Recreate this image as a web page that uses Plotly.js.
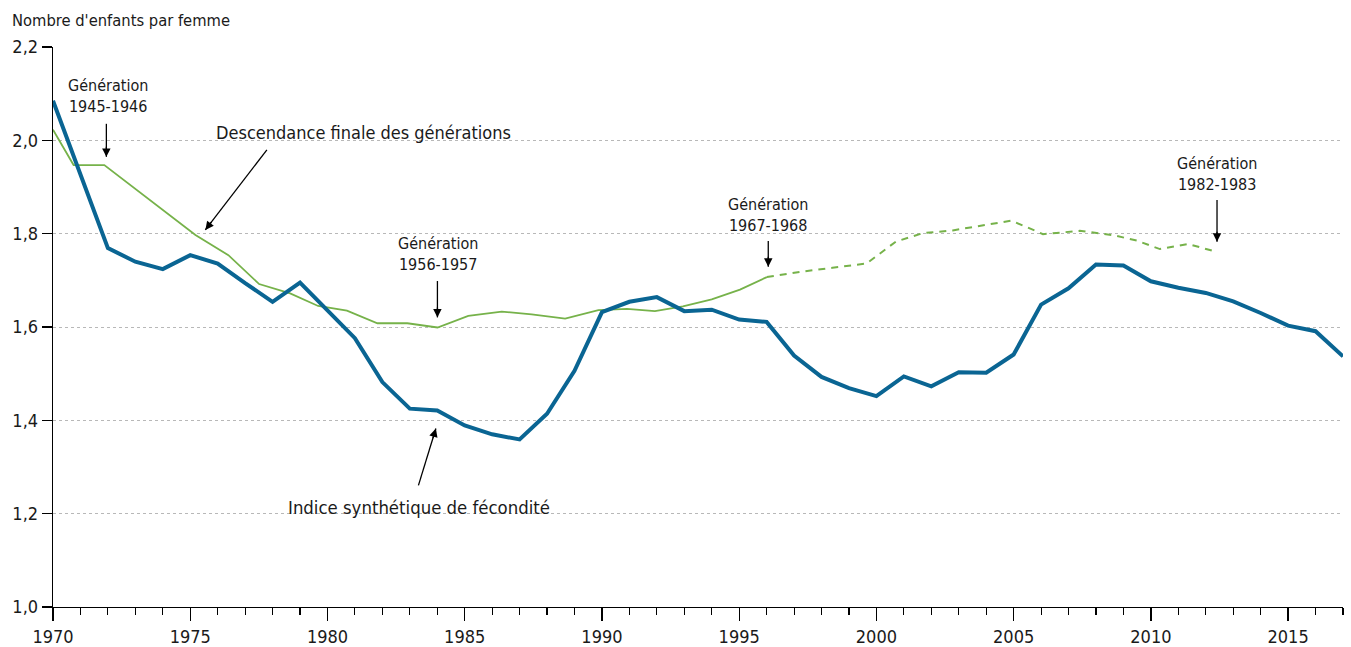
<!DOCTYPE html>
<html>
<head>
<meta charset="utf-8">
<script src="https://cdn.plot.ly/plotly-3.0.1.min.js"></script>
<style>html,body{margin:0;padding:0;background:#fff;}#chart{width:1351px;height:647px;}</style>
</head>
<body>
<div id="chart"></div>
<script>
// Indice synthétique de fécondité (par année)
const years = [1970,1971,1972,1973,1974,1975,1976,1977,1978,1979,
               1980,1981,1982,1983,1984,1985,1986,1987,1988,1989,
               1990,1991,1992,1993,1994,1995,1996,1997,1998,1999,
               2000,2001,2002,2003,2004,2005,2006,2007,2008,2009,
               2010,2011,2012,2013,2014,2015,2016,2017];
const isf = [2.085,1.927,1.769,1.740,1.724,1.754,1.736,1.694,1.654,1.695,
             1.634,1.576,1.482,1.425,1.421,1.389,1.370,1.359,1.414,1.506,
             1.632,1.654,1.664,1.634,1.637,1.616,1.611,1.539,1.493,1.469,
             1.452,1.494,1.473,1.503,1.502,1.541,1.648,1.683,1.734,1.732,
             1.698,1.684,1.673,1.655,1.630,1.603,1.591,1.537];

// Descendance finale des générations (génération, année de positionnement, valeur)
const generations = [1943,1944,1945,1946,1947,1948,1949,1950,1951,1952,
                     1953,1954,1955,1956,1957,1958,1959,1960,1961,1962,
                     1963,1964,1965,1966,1967,1968,1969,1970,1971,1972,
                     1973,1974,1975,1976,1977,1978,1979,1980,1981,1982];
const genYear = [1970.00,1970.75,1971.87,1972.96,1974.09,1975.19,1976.39,1977.51,1978.64,1979.66,
                 1980.71,1981.82,1982.91,1984.01,1985.13,1986.35,1987.44,1988.66,1989.87,1990.91,
                 1991.93,1992.95,1994.00,1995.03,1996.01,1997.20,1998.40,1999.64,2000.71,2001.69,
                 2002.78,2003.84,2004.92,2006.07,2007.41,2008.61,2009.50,2010.33,2011.35,2012.39];
const descFinale = [2.023,1.947,1.947,1.898,1.847,1.797,1.754,1.692,1.672,1.645,
                    1.635,1.608,1.608,1.599,1.624,1.633,1.627,1.618,1.636,1.639,
                    1.634,1.644,1.659,1.680,1.707,1.718,1.727,1.736,1.783,1.801,
                    1.807,1.817,1.828,1.799,1.806,1.797,1.785,1.767,1.778,1.761];
const lastCompleteGeneration = 1967; // au-delà : estimation (pointillé)

const xTicks = [1970,1975,1980,1985,1990,1995,2000,2005,2010,2015];
const yTicks = [1.0,1.2,1.4,1.6,1.8,2.0,2.2];

const FONT = "'DejaVu Sans Condensed','Liberation Sans Narrow',sans-serif";
const TXT = '#1a1a1a';

const solidX = [], solidY = [], dashX = [], dashY = [];
generations.forEach((g, i) => {
  if (g <= lastCompleteGeneration) { solidX.push(genYear[i]); solidY.push(descFinale[i]); }
  if (g >= lastCompleteGeneration) { dashX.push(genYear[i]); dashY.push(descFinale[i]); }
});

const traces = [
  {x: solidX, y: solidY, type: 'scatter', mode: 'lines', name: 'Descendance finale',
   line: {color: '#76b24a', width: 1.8}, hoverinfo: 'skip'},
  {x: dashX, y: dashY, type: 'scatter', mode: 'lines', name: 'Descendance finale (estimée)',
   line: {color: '#76b24a', width: 2, dash: '7px,6px'}, hoverinfo: 'skip'},
  {x: years, y: isf, type: 'scatter', mode: 'lines', name: 'ISF',
   line: {color: '#0a6593', width: 4}, hoverinfo: 'skip'}
];

function label(text, x, y, size) {
  return {text: text, x: x, y: y, xref: 'x', yref: 'y', showarrow: false,
          xanchor: 'center', yanchor: 'middle', align: 'center',
          font: {family: FONT, size: size, color: TXT}};
}
// pointer: tail (x0,y0) -> tip (x1,y1); shaft as a shape, head as an annotation arrow
const pointers = [
  [1971.944, 2.0354, 1971.944, 1.9646, 0, -10],
  [1977.793, 1.9796, 1975.55, 1.808, 6.1, -7.9],
  [1984.006, 1.6985, 1984.006, 1.6206, 0, -10],
  [1996.06, 1.7843, 1996.06, 1.7292, 0, -10],
  [2012.41, 1.8723, 2012.41, 1.7828, 0, -10],
  [1983.314, 1.2607, 1983.95, 1.3824, -2.9, 9.6]
];
const shapes = pointers.map(p => ({type: 'line', xref: 'x', yref: 'y', x0: p[0], y0: p[1], x1: p[2], y1: p[3],
                                   line: {color: '#000', width: 1.3}, layer: 'above'}));
const heads = pointers.map(p => ({text: '', x: p[2], y: p[3], xref: 'x', yref: 'y', ax: p[4], ay: p[5],
          font: {size: 1}, borderpad: 0, borderwidth: 0,
          showarrow: true, arrowhead: 2, arrowsize: 1.3, arrowwidth: 1.3,
          arrowcolor: '#000', standoff: 0, startstandoff: 0}));

const annotations = [
  label('Génération<br>1945-1946', 1972.0, 2.0955, 16),
  label('Descendance finale des générations', 1981.3, 2.016, 18),
  label('Génération<br>1956-1957', 1984.03, 1.7564, 16),
  label('Génération<br>1967-1968', 1996.05, 1.839, 16),
  label('Génération<br>1982-1983', 2012.4, 1.927, 16),
  label('Indice synthétique de fécondité', 1983.34, 1.2135, 18.4)
].concat(heads);

const layout = {
  width: 1351, height: 647,
  margin: {l: 53, r: 8, t: 47, b: 40, pad: 0},
  paper_bgcolor: '#fff', plot_bgcolor: '#fff',
  separators: ', ',
  showlegend: false,
  font: {family: FONT, size: 18, color: TXT},
  title: {text: "Nombre d'enfants par femme", x: 12/1351, xanchor: 'left', xref: 'container',
          y: 1 - 20/647, yanchor: 'middle', yref: 'container',
          font: {family: FONT, size: 16.4, color: TXT}},
  xaxis: {range: [1970, 2017], tickvals: xTicks, ticktext: xTicks.map(String),
          showgrid: false, zeroline: false, showline: true, linecolor: '#000', linewidth: 1.3,
          ticks: 'outside', ticklen: 13, tickwidth: 1.3, tickcolor: '#000',
          minor: {dtick: 1, tick0: 1970, ticks: 'outside', ticklen: 7, tickwidth: 1.1, tickcolor: '#000', showgrid: false},
          tickfont: {family: FONT, size: 18, color: TXT}, fixedrange: true},
  yaxis: {range: [1.0, 2.2], tickvals: yTicks, tickformat: '.1f',
          showgrid: true, gridcolor: '#b8b8b8', gridwidth: 1, griddash: '3px,3px',
          zeroline: false, showline: true, linecolor: '#000', linewidth: 1.3,
          ticks: 'outside', ticklen: 10, tickwidth: 1.3, tickcolor: '#000',
          tickfont: {family: FONT, size: 18, color: TXT}, fixedrange: true},
  shapes: shapes,
  annotations: annotations
};

Plotly.newPlot('chart', traces, layout, {displayModeBar: false, staticPlot: true});
</script>
</body>
</html>
